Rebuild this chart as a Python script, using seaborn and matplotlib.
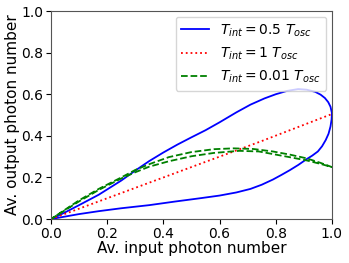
import numpy as np
import pandas as pd
import matplotlib
matplotlib.use("Agg")
import matplotlib.pyplot as plt
import seaborn as sns

# T_int = 0.5 T_osc (blue loop): forward (upper) branch then return (lower) branch
blue_x = [0, 0.05, 0.1, 0.17, 0.25, 0.3, 0.35, 0.4, 0.45, 0.5, 0.55, 0.6, 0.66, 0.71, 0.76, 0.8, 0.84, 0.88,
          0.91, 0.94, 0.96, 0.975, 0.987, 0.995, 1.0,
          0.999, 0.995, 0.988, 0.978, 0.965, 0.95, 0.93, 0.91, 0.88, 0.85, 0.82, 0.79, 0.75, 0.71,
          0.66, 0.6, 0.53, 0.44, 0.35, 0.25, 0.17, 0.1, 0.05, 0]
blue_y = [0, 0.032, 0.067, 0.117, 0.185, 0.233, 0.279, 0.32, 0.358, 0.393, 0.427, 0.465, 0.513, 0.55, 0.58, 0.6, 0.616, 0.625,
          0.622, 0.612, 0.598, 0.582, 0.562, 0.54, 0.51,
          0.48, 0.445, 0.41, 0.38, 0.35, 0.325, 0.305, 0.288, 0.26, 0.235, 0.212, 0.19, 0.165, 0.145,
          0.128, 0.113, 0.1, 0.084, 0.067, 0.052, 0.038, 0.024, 0.012, 0]

# T_int = 1 T_osc (red)
red_x = [0, 0.25, 0.5, 0.75, 1.0]
red_y = [0, 0.125, 0.25, 0.375, 0.505]

# T_int = 0.01 T_osc (green loop)
green_x = [0, 0.1, 0.17, 0.25, 0.3, 0.35, 0.42, 0.5, 0.58, 0.67, 0.74, 0.8, 0.86, 0.91, 0.96, 1.0,
           0.96, 0.91, 0.85, 0.79, 0.72, 0.65, 0.58, 0.5, 0.42, 0.35, 0.3, 0.25, 0.17, 0.1, 0]
green_y = [0, 0.085, 0.14, 0.195, 0.225, 0.252, 0.278, 0.302, 0.318, 0.328, 0.325, 0.31, 0.295, 0.282, 0.265, 0.25,
           0.27, 0.292, 0.31, 0.325, 0.337, 0.34, 0.336, 0.322, 0.298, 0.264, 0.236, 0.2, 0.145, 0.09, 0]

labels = [r"$T_{int} = 0.5\ T_{osc}$", r"$T_{int} = 1\ T_{osc}$", r"$T_{int} = 0.01\ T_{osc}$"]

plt.rcParams['mathtext.fontset'] = 'dejavusans'
fig = plt.figure(figsize=(3.49, 2.63), dpi=100)
ax = fig.add_axes([0.146, 0.167, 0.805, 0.791])

sns.lineplot(x=blue_x, y=blue_y, sort=False, estimator=None, color="blue", lw=1.3,
             linestyle="-", label=labels[0], ax=ax)
sns.lineplot(x=red_x, y=red_y, sort=False, estimator=None, color="red", lw=1.3,
             linestyle=":", label=labels[1], ax=ax)
sns.lineplot(x=green_x, y=green_y, sort=False, estimator=None, color="green", lw=1.3,
             linestyle="--", label=labels[2], ax=ax)

ax.set_xlim(0, 1)
ax.set_ylim(0, 1)
ax.set_xticks([0, 0.2, 0.4, 0.6, 0.8, 1.0])
ax.set_yticks([0, 0.2, 0.4, 0.6, 0.8, 1.0])
ax.tick_params(labelsize=10, pad=2)
ax.set_xlabel("Av. input photon number", fontsize=11, labelpad=0)
ax.set_ylabel("Av. output photon number", fontsize=11, labelpad=1)
for s in ax.spines.values():
    s.set_color("#555555")
ax.legend(loc="upper right", fontsize=10, handlelength=2.0, borderaxespad=0.4)

fig.savefig("out.png", dpi=100)
